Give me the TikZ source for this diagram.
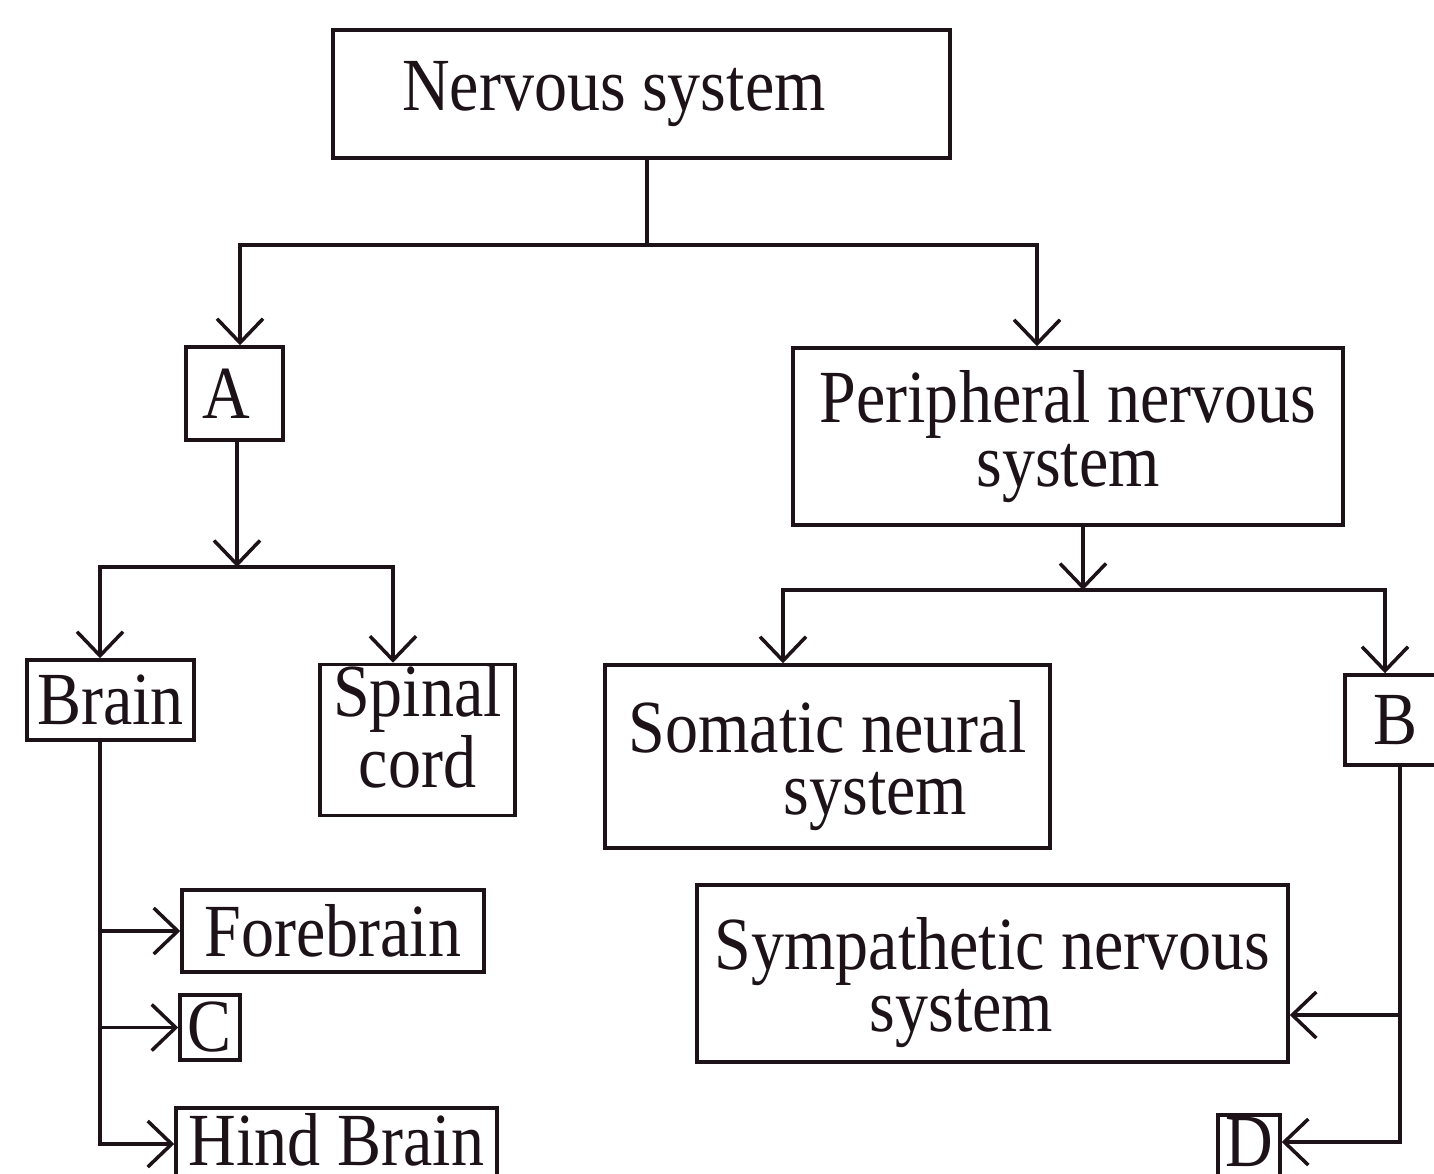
\documentclass[tikz,border=0pt]{standalone}
\usepackage{fontspec}
\setmainfont{Liberation Serif}[FakeStretch=0.88]
\usetikzlibrary{arrows.meta}
\definecolor{ink}{RGB}{28,18,24}
\tikzset{
  box/.style={draw=ink, text=ink, line width=3.5pt, inner sep=0pt, font=\fontsize{75}{62}\selectfont},
  conn/.style={draw=ink, line width=3.5pt},
  arr/.style={conn, -{Straight Barb[length=24pt,width=46pt,line width=3.5pt]}}
}
\begin{document}
\begin{tikzpicture}[x=1pt,y=-1pt]
\useasboundingbox[fill=white] (0,0) rectangle (1434,1173);
% boxes
\node[box, minimum width=617pt, minimum height=128pt] (ns) at (641.5,94) {\raisebox{-7pt}{Nervous system}\hspace*{55pt}};
\node[box, minimum width=97pt, minimum height=93pt] (A) at (234.5,393.5) {A\hspace*{16pt}};
\node[box, minimum width=550pt, minimum height=177pt, align=center, font=\fontsize{75}{64}\selectfont] (pns) at (1068,436.5) {Peripheral nervous\\system};
\node[box, minimum width=167pt, minimum height=80pt] (brain) at (110.5,700) {Brain};
\node[box, minimum width=195pt, minimum height=150pt, align=center, font=\fontsize{75}{71}\selectfont] (spinal) at (417.5,740) {Spinal\\cord\rule[-28pt]{0pt}{1pt}};
\node[box, minimum width=445pt, minimum height=183pt, align=left] (som) at (827.5,756.5) {\rule{0pt}{70pt}Somatic neural\\\hspace*{155pt}system};
\node[box, minimum width=93pt, minimum height=90pt] (B) at (1391.5,720) {\hspace*{7pt}B};
\node[box, minimum width=591pt, minimum height=177pt, align=left] (sym) at (992.5,973.5) {\rule{0pt}{70pt}Sympathetic nervous\\\hspace*{155pt}system};
\node[box, minimum width=62pt, minimum height=65pt] (D) at (1249,1147.5) {\raisebox{12pt}{D}};
\node[box, minimum width=302pt, minimum height=82pt] (fore) at (333,931) {Forebrain};
\node[box, minimum width=60pt, minimum height=65pt] (C) at (210,1027.5) {C};
\node[box, minimum width=321pt, minimum height=72pt] (hind) at (336.5,1144) {\raisebox{10pt}{Hind Brain}};
% junction coordinates
\coordinate (j1) at (647,245);
\coordinate (j2) at (237,567);
\coordinate (j3) at (1083,590);
\coordinate (bx) at (100,740);
\coordinate (rx) at (1400,765);
\coordinate (ys) at (0,1015);
\coordinate (yd) at (0,1142);
% top level
\draw[conn] (ns.south -| j1) -- (j1);
\draw[arr] (j1) -| ([xshift=5.5pt]A.north);
\draw[arr] (j1) -| ([xshift=-31pt]pns.north);
% A branch
\draw[arr] (A.south -| j2) -- (j2);
\draw[arr] (j2) -| ([xshift=-10.5pt]brain.north);
\draw[arr] (j2) -| ([xshift=-24.5pt]spinal.north);
% PNS branch
\draw[arr] (pns.south -| j3) -- (j3);
\draw[arr] (j3) -| ([xshift=-44.5pt]som.north);
\draw[arr] (j3) -| ([xshift=-6.5pt]B.north);
% brain children
\draw[arr] (bx) |- (hind.west);
\draw[arr] (bx |- fore.west) -- (fore.west);
\draw[arr] (bx |- C.west) -- (C.west);
% B children
\draw[arr] (rx) |- (D.east |- yd);
\draw[arr] (rx |- ys) -- (sym.east |- ys);
\end{tikzpicture}
\end{document}
